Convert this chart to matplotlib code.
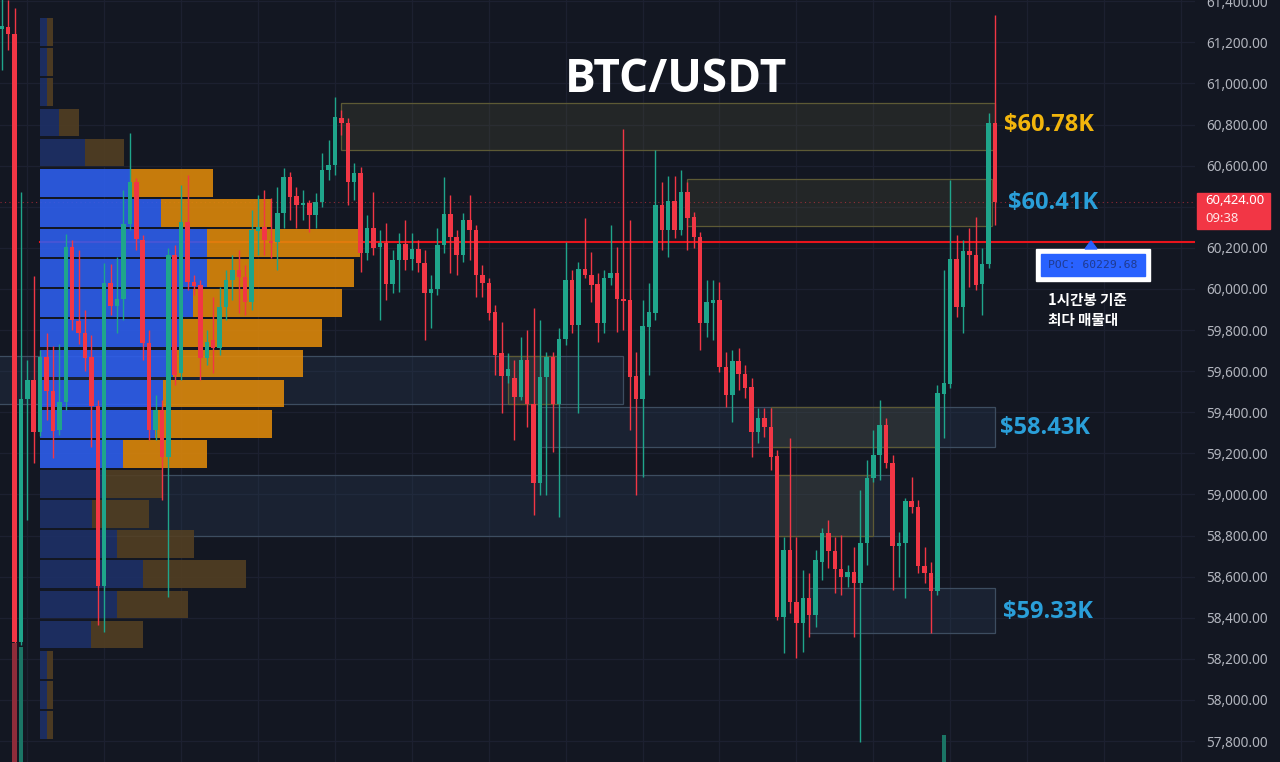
import numpy as np
import matplotlib.pyplot as plt
from matplotlib.patches import Rectangle, Polygon

# 1h candles, oldest first
opens = [61265, 61275, 61241, 58282, 59465, 59557, 59304, 59669, 59504, 59314,
         59450, 60204, 59844, 59786, 59669, 59431, 58555, 60029, 59917, 59951,
         60316, 60521, 60238, 59737, 59314, 59411, 59183, 60165, 59591, 60326,
         60034, 60019, 59664, 59752, 59713, 59912, 60044, 60092, 60058, 59937,
         60282, 60302, 60234, 60229, 60370, 60545, 60452, 60409, 60418, 60360,
         60423, 60579, 60603, 60832, 60808, 60521, 60564, 60175, 60297, 60204,
         60224, 60024, 60141, 60219, 60146, 60195, 60127, 59981, 60000, 60214,
         60365, 60253, 60165, 60336, 60287, 60068, 60029, 59888, 59689, 59577,
         59567, 59474, 59655, 59440, 59056, 59572, 59669, 59440, 59757, 60044,
         59825, 60097, 60068, 60024, 59835, 60054, 60078, 59951, 59946, 59577,
         59465, 59815, 59883, 60409, 60287, 60428, 60287, 60472, 60350, 60253,
         59835, 59932, 59946, 59620, 59484, 59650, 59586, 59523, 59304, 59372,
         59329, 59187, 58404, 58730, 58477, 58375, 58496, 58414, 58672, 58813,
         58725, 58637, 58599, 58623, 58569, 58764, 59080, 59192, 59338, 59153,
         58749, 58764, 58968, 58939, 58652, 58618, 58530, 59489, 59538, 60146,
         59912, 60185, 60165, 60024, 60122, 60808]
highs = [61421, 61406, 61367, 60472, 59655, 60063, 59703, 59786, 59723, 59732,
         60268, 60238, 60190, 59898, 59776, 59460, 60127, 60122, 60156, 60482,
         60759, 60540, 60263, 59800, 59484, 59460, 60200, 60214, 60506, 60555,
         60068, 60044, 59800, 59961, 60010, 60092, 60165, 60190, 60117, 60384,
         60457, 60482, 60443, 60496, 60589, 60569, 60496, 60482, 60433, 60467,
         60662, 60725, 60934, 60871, 60832, 60613, 60594, 60360, 60472, 60287,
         60321, 60190, 60272, 60336, 60272, 60238, 60190, 60068, 60297, 60545,
         60457, 60287, 60370, 60457, 60311, 60117, 60054, 59922, 59839, 59689,
         59655, 59766, 59800, 59908, 59849, 59693, 59693, 59810, 60229, 60092,
         60131, 60345, 60180, 60078, 60092, 60311, 60204, 60779, 60336, 59693,
         59946, 60029, 60676, 60521, 60550, 60550, 60579, 60521, 60375, 60277,
         60044, 60044, 60034, 59693, 59703, 59713, 59630, 59567, 59421, 59421,
         59421, 59217, 58793, 59275, 58793, 58633, 58618, 58730, 58837, 58876,
         58793, 58803, 58657, 58745, 59022, 59168, 59314, 59460, 59372, 59192,
         58818, 58983, 59085, 58973, 58745, 58672, 59533, 60092, 60530, 60263,
         60238, 60297, 60350, 60200, 60856, 61333]
lows = [61066, 61163, 58268, 58268, 58876, 59153, 59285, 59363, 59178, 59290,
        59411, 59800, 59732, 59601, 59231, 58365, 58331, 59873, 59786, 59849,
        60287, 60190, 59655, 59265, 59265, 58973, 58501, 59533, 59557, 59995,
        59971, 59557, 59630, 59591, 59679, 59849, 59946, 59883, 59873, 59898,
        60165, 60165, 60151, 60092, 60297, 60336, 60297, 60336, 60277, 60297,
        60399, 60530, 60555, 60749, 60409, 60433, 60083, 60141, 60165, 59849,
        59946, 59981, 59985, 60092, 60092, 60083, 59752, 59810, 59971, 60175,
        60078, 60068, 60131, 60141, 59961, 59961, 59849, 59582, 59397, 59543,
        59265, 59460, 59329, 58900, 58998, 58998, 59207, 58891, 59728, 59786,
        59397, 60054, 59937, 59742, 59786, 60019, 59791, 59800, 59314, 58998,
        59085, 59582, 59849, 60190, 60156, 60248, 60263, 60190, 60200, 59703,
        59766, 59752, 59596, 59426, 59353, 59509, 59470, 59183, 59251, 59280,
        59119, 58389, 58229, 58423, 58204, 58234, 58307, 58355, 58584, 58642,
        58521, 58511, 58550, 58307, 57796, 58657, 59061, 59071, 59129, 58535,
        58599, 58496, 58910, 58618, 58569, 58326, 58511, 59275, 59518, 59864,
        59786, 60010, 59995, 59873, 60102, 60311]
closes = [61280, 61241, 58282, 59465, 59557, 59304, 59669, 59504, 59309, 59450,
          60204, 59849, 59786, 59664, 59431, 58555, 60029, 59917, 59951, 60316,
          60521, 60243, 59737, 59314, 59411, 59183, 60165, 59582, 60326, 60034,
          60015, 59664, 59742, 59713, 59912, 60044, 60092, 60058, 59937, 60287,
          60302, 60238, 60224, 60370, 60545, 60448, 60409, 60418, 60360, 60423,
          60579, 60603, 60837, 60808, 60521, 60564, 60175, 60297, 60200, 60224,
          60024, 60141, 60219, 60141, 60195, 60127, 59981, 60000, 60214, 60365,
          60253, 60165, 60336, 60287, 60068, 60029, 59883, 59679, 59577, 59611,
          59474, 59655, 59440, 59056, 59572, 59669, 59440, 59757, 60044, 59825,
          60097, 60068, 60019, 59835, 60054, 60078, 59951, 59942, 59572, 59465,
          59820, 59888, 60409, 60287, 60428, 60287, 60472, 60345, 60253, 59835,
          59937, 59946, 59620, 59484, 59650, 59586, 59518, 59304, 59372, 59329,
          59183, 58404, 58730, 58477, 58375, 58496, 58414, 58681, 58813, 58725,
          58637, 58599, 58623, 58569, 58764, 59080, 59192, 59338, 59153, 58749,
          58764, 58968, 58939, 58652, 58618, 58530, 59494, 59543, 60146, 59912,
          60185, 60165, 60019, 60122, 60808, 60424]

# volume (only the bars that reach into view)
vol_idx = [2, 3, 147]
vol_val = [4170, 4030, 950]

# volume profile, rows from bottom to top
prof_bottom = 57805
prof_step = 146.6
buy_vol = [7, 7, 7, 51, 77, 103, 77, 52, 63, 83, 115, 123, 133, 143, 153, 167,
           167, 121, 90, 45, 19, 7, 7, 7]
sell_vol = [6, 6, 6, 52, 71, 103, 77, 57, 59, 84, 117, 121, 130, 139, 149, 147,
            153, 111, 83, 39, 20, 6, 6, 6]
va_lo, va_hi = 9, 18
poc_price = 60229.68
last_price = 60424.00

# zones: start idx, end idx, low, high, kind
zone_start = [53, 107, -1, 79, 84, 120, 15, 121, 126]
zone_end = [155, 154.5, 97, 87, 155, 146, 139, 136, 155]
zone_low = [60676, 60307, 59440, 59440, 59231, 59231, 58798, 58798, 58326]
zone_high = [60905, 60535, 59674, 59674, 59426, 59426, 59095, 59095, 58545]
zone_kind = ['y', 'y', 'b', 'y', 'b', 'y', 'b', 'y', 'b']

bg = '#131722'
up = '#1fa58b'
dn = '#f23645'
W, H = 1280, 762


def fx(px):
    return px / W


def fy(py):
    return 1 - py / H


fig = plt.figure(figsize=(12.8, 7.62), dpi=100, facecolor=bg)
ax = fig.add_axes([0, 0, 1195 / W, 1])
ax.set_facecolor(bg)
ax.set_xlim(-0.265, 186.2)
ax.set_ylim(57698, 61406)
for s in ax.spines.values():
    s.set_visible(False)

# volume bars on their own scale
ax2 = ax.twinx()
ax2.set_ylim(0, H * 35)
ax2.set_axis_off()
vcol = ['#8e2c3a' if closes[i] < opens[i] else '#1b7565' for i in vol_idx]
ax2.bar(vol_idx, vol_val, width=0.68, color=vcol, lw=0)

# grid and price axis (the 60,400 label sits under the last-price tag)
ticks = np.arange(57800, 61401, 200)
ax.set_yticks(ticks)
ax.set_yticklabels(['' if t == 60400 else f'{t:,.2f}' for t in ticks],
                   family='Noto Sans', fontsize=9.8, color='#b2b5be')
ax.yaxis.tick_right()
ax.tick_params(axis='y', length=0, pad=8, labelleft=False, labelright=True)
ax.set_xticks([])
for t in ticks:
    ax.axhline(t, color='#1c2030', lw=0.9, zorder=0)
for k in range(16):
    ax.axvline(4 + 12 * k, color='#1c2030', lw=0.9, zorder=0)

# zones
for x0, x1, lo, hi, kd in zip(zone_start, zone_end, zone_low, zone_high, zone_kind):
    if kd == 'y':
        fc, ec, a = '#5f5e3c', '#5d5a35', 0.22
    else:
        fc, ec, a = '#2f4563', '#3d4d60', 0.25
    ax.add_patch(Rectangle((x0, lo), x1 - x0, hi - lo, facecolor=fc, alpha=a,
                           edgecolor='none', zorder=1))
    ax.add_patch(Rectangle((x0, lo), x1 - x0, hi - lo, facecolor='none',
                           edgecolor=ec, lw=0.9, zorder=1.1))

# POC line and last price line
prof_x0 = 5.97
ax.plot([prof_x0, 186.2], [poc_price, poc_price], color='#e8141c', lw=1.5, zorder=1.5)
ax.axhline(last_price, color=dn, lw=0.8, ls=(0, (1, 3)), alpha=0.55, zorder=1.4)

# volume profile
px_per_idx = 6.41
centers = prof_bottom + (np.arange(len(buy_vol)) + 0.5) * prof_step
for k, (b, s) in enumerate(zip(buy_vol, sell_vol)):
    inside = va_lo <= k <= va_hi
    cb = '#2e5ff0' if inside else '#1e3168'
    cs = '#e08a0a' if inside else '#533f22'
    ax.barh(centers[k], b / px_per_idx, left=prof_x0, height=prof_step * 0.92,
            color=cb, lw=0, alpha=0.88, zorder=2)
    ax.barh(centers[k], s / px_per_idx, left=prof_x0 + b / px_per_idx,
            height=prof_step * 0.92, color=cs, lw=0, alpha=0.88, zorder=2)

# candles
idx = np.arange(len(opens))
o = np.array(opens, float)
c = np.array(closes, float)
hi = np.array(highs, float)
lo = np.array(lows, float)
col = [up if cc >= oo else dn for oo, cc in zip(o, c)]
ax.vlines(idx, lo, hi, colors=col, lw=1.0, zorder=3)
body = np.maximum(np.abs(c - o), 8)
ax.bar(idx, body, bottom=np.minimum(o, c), width=0.7, color=col, lw=0, zorder=3.1)

# title
fig.text(fx(676), fy(80), 'BTC/USDT', ha='center', va='center', fontsize=33,
         family='Open Sans', weight='bold', color='white')

# zone labels
lab_txt = ['$60.78K', '$60.41K', '$58.43K', '$59.33K']
lab_col = ['#f2b50c', '#2a9fd9', '#2a9fd9', '#2a9fd9']
lab_x = [1004, 1008, 1000, 1003]
lab_y = [125, 203, 428, 612]
for t, cl, x, y in zip(lab_txt, lab_col, lab_x, lab_y):
    fig.text(fx(x), fy(y), t, ha='left', va='center', fontsize=17,
             family='Open Sans', weight='bold', color=cl)

# last price tag
fig.patches.append(Rectangle((fx(1197), fy(229)), 73 / W, 36 / H,
                             transform=fig.transFigure, color=dn, zorder=5))
fig.text(fx(1205), fy(201), f'{last_price:,.2f}', ha='left', va='center',
         fontsize=9.4, family='Noto Sans', color='white', zorder=6)
fig.text(fx(1205), fy(219), '09:38', ha='left', va='center',
         fontsize=9.4, family='Noto Sans', color='#ffe6e8', zorder=6)

# POC tag
fig.patches.append(Rectangle((fx(1036), fy(281)), 114 / W, 32 / H,
                             transform=fig.transFigure, color='white', zorder=5))
fig.patches.append(Rectangle((fx(1041), fy(276)), 104 / W, 22 / H,
                             transform=fig.transFigure, color='#2962ff', zorder=6))
fig.patches.append(Polygon([(fx(1085), fy(249)), (fx(1097), fy(249)), (fx(1091), fy(241))],
                           closed=True, transform=fig.transFigure, color='#2962ff', zorder=6))
fig.text(fx(1093), fy(265), f'POC: {poc_price:.2f}', ha='center', va='center',
         fontsize=8.2, family='DejaVu Sans Mono', color='#1f3a8f', zorder=7)

fig.text(fx(1048), fy(300), '1시간봉 기준', ha='left', va='center', fontsize=10.5,
         family=['Noto Sans CJK KR', 'DejaVu Sans'], weight='bold', color='white')
fig.text(fx(1048), fy(320), '최다 매물대', ha='left', va='center', fontsize=10.5,
         family=['Noto Sans CJK KR', 'DejaVu Sans'], weight='bold', color='white')

fig.savefig('out.png', dpi=100, facecolor=bg)
